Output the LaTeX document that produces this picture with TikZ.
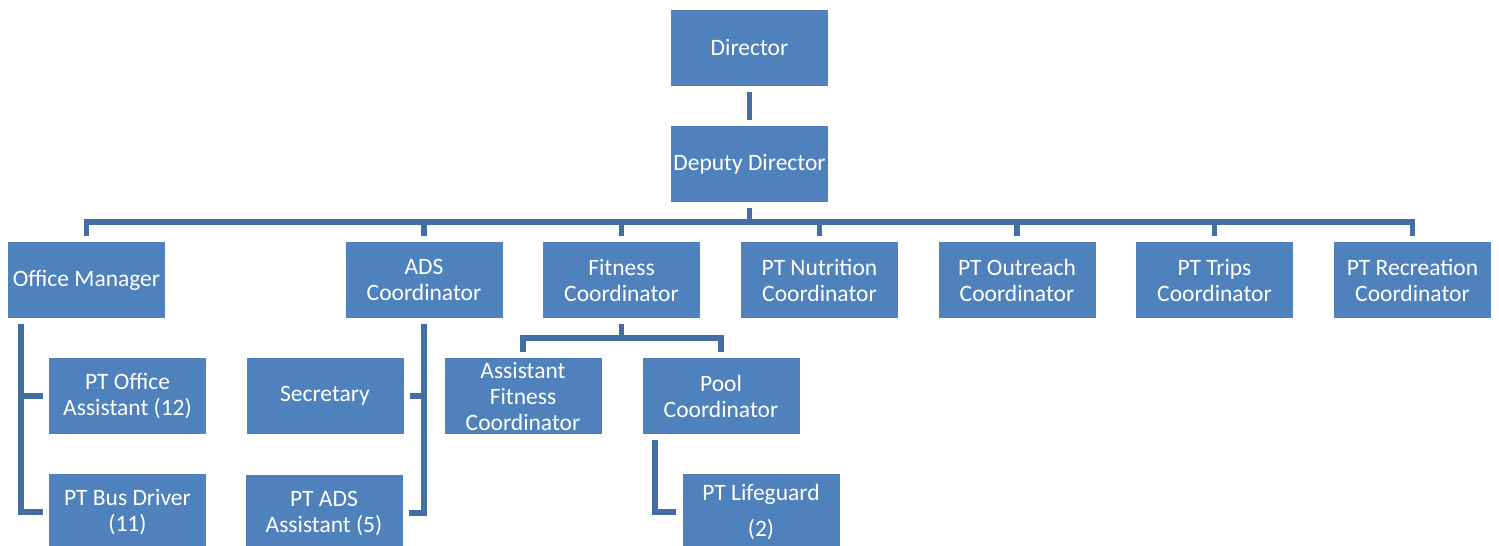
\documentclass[tikz,border=0pt]{standalone}
\usepackage{fontspec}
\setmainfont{Carlito}
\definecolor{boxblue}{RGB}{79,129,189}
\definecolor{lineblue}{RGB}{66,110,162}
\tikzset{
  orgbox/.style={rectangle, fill=boxblue, draw=none, text=white,
    minimum width=157pt, minimum height=76pt, inner sep=0pt, align=center,
    font=\fontsize{23.5}{26}\selectfont},
  conn/.style={draw=lineblue, line width=5.5pt, line join=miter}
}
\begin{document}
\begin{tikzpicture}[x=1pt, y=-1pt]
\useasboundingbox (0,0) rectangle (1499,546);
\clip (0,0) rectangle (1499,546);

% top of the chart
\node[orgbox] (dir) at (749.5,48) {Director};
\node[orgbox] (dep) at (749.5,164) {Deputy Director};

% second level
\node[orgbox] (om)    at (86.5,280)  {Office Manager};
\node[orgbox] (ads)   at (424,280)   {ADS\\Coordinator};
\node[orgbox] (fit)   at (621.5,280) {Fitness\\Coordinator};
\node[orgbox] (nut)   at (819.5,280) {PT Nutrition\\Coordinator};
\node[orgbox] (outr)  at (1017,280)  {PT Outreach\\Coordinator};
\node[orgbox] (trips) at (1214.5,280){PT Trips\\Coordinator};
\node[orgbox] (rec)   at (1412.5,280){PT Recreation\\Coordinator};

% third level
\node[orgbox] (poa)  at (127.5,396) {PT Office\\Assistant (12)};
\node[orgbox] (pbd)  at (127.5,512) {PT Bus Driver\\(11)};
\node[orgbox] (sec)  at (325,396)   {Secretary};
\node[orgbox] (pads) at (324,513)   {PT ADS\\Assistant (5)};
\node[orgbox] (afc)  at (523,396)   {Assistant\\Fitness\\Coordinator};
\node[orgbox] (pool) at (721,396)   {Pool\\Coordinator};
\node[orgbox, font=\fontsize{23.5}{36}\selectfont] (life) at (761,512) {PT Lifeguard\\(2)};

% helper coordinates for buses and rails
\coordinate (bus)      at (0,222);
\coordinate (fbus)     at (0,338);
\coordinate (omrail)   at (21,0);
\coordinate (poolrail) at (655,0);

% director to deputy
\draw[conn] ([yshift=-6pt]dir.south) -- ([yshift=6pt]dep.north);

% main bus
\draw[conn] ([yshift=-6pt]dep.south) -- (dep.south |- bus);
\draw[conn] ([yshift=6pt]om.north) -- (om.north |- bus) -- (rec.north |- bus) -- ([yshift=6pt]rec.north);
\foreach \n in {ads,fit,nut,outr,trips}
  \draw[conn] (\n.north |- bus) -- ([yshift=6pt]\n.north);

% office manager rail
\draw[conn] ([yshift=-6pt]omrail |- om.south) -- (omrail |- pbd.west) -- ([xshift=-6pt]pbd.west);
\draw[conn] (omrail |- poa.west) -- ([xshift=-6pt]poa.west);

% ADS rail
\draw[conn] ([yshift=-6pt]ads.south) -- (ads.south |- pads.east) -- ([xshift=6pt]pads.east);
\draw[conn] (ads.south |- sec.east) -- ([xshift=6pt]sec.east);

% fitness bus
\draw[conn] ([yshift=-6pt]fit.south) -- (fit.south |- fbus);
\draw[conn] ([yshift=6pt]afc.north) -- (afc.north |- fbus) -- (pool.north |- fbus) -- ([yshift=6pt]pool.north);

% pool rail
\draw[conn] ([yshift=-6pt]poolrail |- pool.south) -- (poolrail |- life.west) -- ([xshift=-6pt]life.west);
\end{tikzpicture}
\end{document}
